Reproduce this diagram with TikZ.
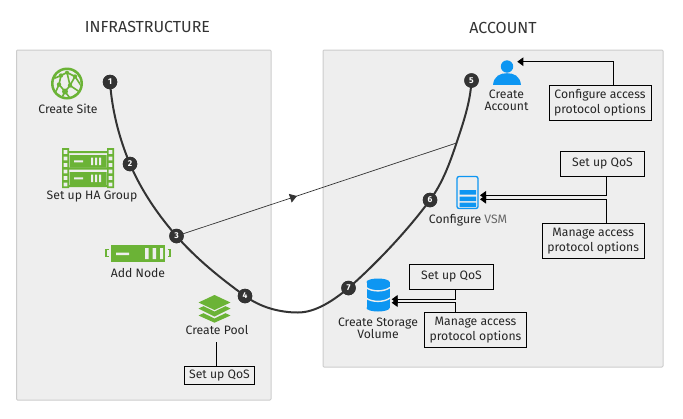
\documentclass[tikz,border=0pt]{standalone}
\usepackage{fontspec}
\setmainfont{Fira Sans}
\usetikzlibrary{arrows.meta,decorations.markings}
\definecolor{panel}{HTML}{EEEEEE}
\definecolor{panelline}{HTML}{CCCCCC}
\definecolor{grn}{HTML}{6BB336}
\definecolor{blu}{HTML}{0D96F2}
\definecolor{ink}{HTML}{333333}
\tikzset{x=1pt,y=-1pt,
 zone/.style={draw=panelline,fill=panel,line width=1pt,rounded corners=1pt},
 title/.style={font=\fontsize{16}{18}\selectfont,text=ink,inner sep=0pt},
 lab/.style={font=\fontsize{12.2}{13.4}\selectfont,text=black!85,align=center,inner sep=0pt},
 badge/.style={circle,fill=ink,text=white,inner sep=0pt,minimum size=14.5pt,font=\fontsize{8.5}{9}\selectfont\bfseries},
 tag/.style={draw=black,line width=.8pt,fill=panel,font=\fontsize{12.2}{15}\selectfont,text=black!85,align=center,inner sep=0pt},
 link/.style={draw=black,line width=.8pt},
 tip/.style={-{Triangle[length=6pt,width=8.5pt]}},
}
\begin{document}
\begin{tikzpicture}
\useasboundingbox (0,0) rectangle (683,418);
\draw[zone] (16.5,50) rectangle (271,400);
\draw[zone] (323,50) rectangle (663,367);
\node[title] (tinf) at (147.5,27) {INFRASTRUCTURE};
\node[title] (tacc) at (503,27.5) {ACCOUNT};
% badge positions
\node[badge] (b1) at (110,82) {1};
\node[badge] (b2) at (130,164) {2};
\node[badge] (b3) at (176.5,236) {3};
\node[badge] (b4) at (245,296) {4};
\node[badge] (b5) at (471.5,80.5) {5};
\node[badge] (b6) at (430,200) {6};
\node[badge] (b7) at (348.5,288) {7};
\coordinate (low) at (298,312.5);
\coordinate (cross) at (456.5,143);
% globe
\begin{scope}[shift={(67,83.5)}]
\fill[grn] (0,0) circle (16);
\fill[panel] (0,0) circle (13.4);
\clip (0,0) circle (13.6);
\draw[grn,line width=1.6pt] (-13,-5)--(-6,-8)--(0,-11)--(8,-7)--(3,2)--(-2,8)--(-8,1)--(-6,-8) (0,-11)--(3,2) (8,-7)--(14,2) (3,2)--(12,8) (-2,8)--(4,16) (-8,1)--(-12,10) (-2,8)--(-6,16);
\fill[grn] (-6,-8) circle (2.2) (8,-7) circle (2.2) (3,2) circle (2.2) (-2,8) circle (3) (-8,1) circle (2.2) (0,-11) circle (2);
\end{scope}
\node[lab] (lsite) at (68,109) {Create Site};
% HA group
\begin{scope}[shift={(62,148)}]
\fill[grn] (0,0) rectangle (7,40) (45,0) rectangle (52,40);
\foreach \yy in {2,8.5,15,21.5,28,34.5}{
 \fill[panel] (1.7,\yy) rectangle (5.3,\yy+3.8) (46.7,\yy) rectangle (50.3,\yy+3.8);}
\fill[grn] (7,3) rectangle (45,5) (7,19.3) rectangle (45,21.5) (7,37) rectangle (45,39);
\fill[grn] (7.5,7) rectangle (44.5,19.7) (7.5,24) rectangle (44.5,37);
\fill[panel] (12,12.3) rectangle (21,14.3) (12,29.3) rectangle (21,31.3);
\fill[panel] (29,9.5) rectangle (31,17) (33,9.5) rectangle (35,17) (37,9.5) rectangle (39,17) (29,26.5) rectangle (31,34) (33,26.5) rectangle (35,34) (37,26.5) rectangle (39,34);
\end{scope}
\node[lab] (lha) at (92,197) {Set up HA Group};
% node icon
\begin{scope}[shift={(105,245)}]
\fill[grn] (6,0) rectangle (60,17);
\fill[panel] (11,7.5) rectangle (24,10) (40,3) rectangle (43.5,14) (47.5,3) rectangle (51,14) (55,3) rectangle (58,14);
\draw[grn,line width=1.6pt] (3.5,4.5)--(.9,4.5)--(.9,11.5)--(3.5,11.5) (62.5,4.5)--(65.1,4.5)--(65.1,11.5)--(62.5,11.5);
\end{scope}
\node[lab] (lnode) at (138,273) {Add Node};
% pool icon
\begin{scope}[shift={(214.5,316)}]
\fill[grn] (-16,-13.5)--(0,-21)--(16,-13.5)--(0,-6)--cycle;
\fill[grn] (-16,-7.5)--(-11,-9.8)--(0,-4.5)--(11,-9.8)--(16,-7.5)--(0,0.5)--cycle;
\fill[grn] (-16,-.5)--(-11,-2.8)--(0,2.5)--(11,-2.8)--(16,-.5)--(0,6.7)--cycle;
\end{scope}
\node[lab] (lpool) at (217,330) {Create Pool};
\node[tag,minimum width=70pt,minimum height=18.5pt] (tpool) at (219.5,375.3) {Set up QoS};
\coordinate (ppool) at (216.5,342);
\draw[link] (ppool) -- (ppool |- tpool.north);
% person
\fill[blu] (507,66.5) circle (6.2);
\fill[blu] (493,84.8) .. controls (494,76) and (500,73.2) .. (507,73.2) .. controls (514,73.2) and (520,76) .. (521,84.8) -- cycle;
\coordinate (person) at (517.3,61.7);
\node[lab] (lacc) at (506.5,100.5) {Create\\[-1pt]Account};
% vsm
\begin{scope}[shift={(457,176.5)}]
\draw[blu,line width=1.3pt,rounded corners=2pt,fill=panel] (0,0) rectangle (21,32);
\fill[blu] (2.5,13.5) rectangle (19,18) (2.5,20) rectangle (19,24.5) (2.5,26) rectangle (19,30.5);
\end{scope}
\coordinate (vsma) at (480,195.3);
\coordinate (vsmb) at (480,199.3);
\node[lab] (lvsm) at (468,220) {Configure \textcolor{black!60}{VSM}};
% storage
\begin{scope}[shift={(378,282)}]
\fill[blu] (-11.5,0) rectangle (11.5,26);
\fill[blu] (0,26) ellipse (11.5 and 3.5);
\fill[blu] (0,0) ellipse (11.5 and 3.5);
\draw[panel,line width=1.4pt] (-12,5.5) .. controls (-6,10) and (6,10) .. (12,5.5);
\draw[panel,line width=1.4pt] (-12,16) .. controls (-6,20.5) and (6,20.5) .. (12,16);
\end{scope}
\coordinate (stora) at (391.7,299.3);
\coordinate (storb) at (391.7,302.7);
\node[lab] (lstor) at (378,328) {Create Storage\\[-1pt]Volume};
% tags
\node[tag,minimum width=102pt,minimum height=35pt] (t5) at (600,102.7) {Configure access\\protocol options};
\node[tag,minimum width=84.5pt,minimum height=25.5pt] (t6a) at (602.5,163.7) {Set up QoS};
\node[tag,minimum width=102pt,minimum height=35pt] (t6b) at (593.2,241) {Manage access\\protocol options};
\node[tag,minimum width=84.5pt,minimum height=25.5pt] (t7a) at (451.5,277) {Set up QoS};
\node[tag,minimum width=102pt,minimum height=35pt] (t7b) at (475.5,330) {Manage access\\protocol options};
\draw[link,tip] (t5.north -| 613,0) |- (person);
\draw[link,tip] (t6a.south -| 606,0) |- (vsma);
\draw[link,tip] (t6b.north -| 606,0) |- (vsmb);
\draw[link,tip] (t7a.south -| 455.7,0) |- (stora);
\draw[link,tip] (t7b.north -| 455.7,0) |- (storb);
% thin line
\draw[ink,line width=.7pt,postaction={decorate},decoration={markings,mark=at position .43 with {\arrow{Triangle[length=7pt,width=9pt]}}}] (b3.center) -- (cross);
% main curve
\draw[ink,line width=2pt] (b1.center)
 .. controls (112,110) and (119,138) .. (b2.center)
 .. controls (141,190) and (158,215) .. (b3.center)
 .. controls (196.3,258.8) and (221,278.6) .. (b4.center)
 .. controls (260,307) and (279,312.5) .. (low)
 .. controls (316,312.5) and (334,300) .. (b7.center)
 .. controls (376,264) and (408,230) .. (b6.center)
 .. controls (442.6,183) and (449.8,163) .. (cross)
 .. controls (463.5,122) and (470.4,102) .. (b5.center);
\foreach \n/\t in {b1/1,b2/2,b3/3,b4/4,b5/5,b6/6,b7/7}{\node[badge] at (\n) {\t};}
\end{tikzpicture}
\end{document}
